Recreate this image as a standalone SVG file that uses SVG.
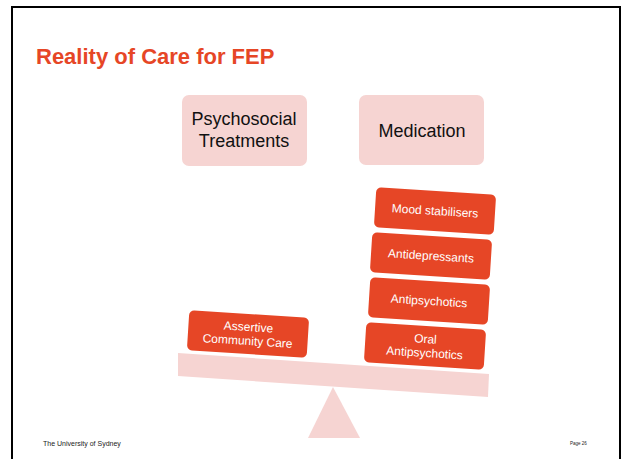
<svg xmlns="http://www.w3.org/2000/svg" width="622" height="459" viewBox="0 0 622 459">
<style>
.title{font-family:"Liberation Sans",Arial,sans-serif;font-weight:bold;font-size:22px;fill:#E64626}
.head{font-family:"Liberation Sans",Arial,sans-serif;font-size:18px;fill:#111;text-anchor:middle}
.pink{fill:#F6D4D2}
.org{fill:#E64626}
.lbl{font-family:"Liberation Sans",Arial,sans-serif;font-size:12px;fill:#fff;text-anchor:middle}
.foot{font-family:"Liberation Sans",Arial,sans-serif;fill:#222}
</style>
<rect x="0" y="0" width="622" height="459" fill="#fff"/>
<rect x="12" y="7" width="608" height="470" fill="#fff" stroke="#000" stroke-width="2"/>
<text class="title" x="36" y="64">Reality of Care for FEP</text>
<g id="psychosocial">
<rect class="pink" x="182" y="95" width="125" height="71" rx="7"/>
<text class="head" x="244" y="125">Psychosocial</text>
<text class="head" x="244" y="147">Treatments</text>
</g>
<g id="medication">
<rect class="pink" x="359" y="95" width="125" height="70" rx="7"/>
<text class="head" x="422" y="137">Medication</text>
</g>
<g id="fulcrum">
<polygon class="pink" points="333,387 308,438 360,438"/>
</g>
<g id="beam">
<polygon class="pink" points="178,353 489,374 488,397 178,376"/>
</g>
<g id="mood">
<g transform="translate(435,211) rotate(3.6)">
<rect class="org" x="-60" y="-20" width="120" height="40" rx="5"/>
<text class="lbl" x="0" y="4">Mood stabilisers</text>
</g>
</g>
<g id="antidepressants">
<g transform="translate(431,256) rotate(3.6)">
<rect class="org" x="-60" y="-20" width="120" height="40" rx="5"/>
<text class="lbl" x="0" y="4">Antidepressants</text>
</g>
</g>
<g id="antipsychotics">
<g transform="translate(429,301) rotate(3.6)">
<rect class="org" x="-60" y="-20" width="120" height="40" rx="5"/>
<text class="lbl" x="0" y="4">Antipsychotics</text>
</g>
</g>
<g id="oral">
<g transform="translate(425,346) rotate(3.6)">
<rect class="org" x="-60" y="-20" width="120" height="40" rx="5"/>
<text class="lbl" x="0" y="-3">Oral</text>
<text class="lbl" x="0" y="11">Antipsychotics</text>
</g>
</g>
<g id="assertive">
<g transform="translate(248,334) rotate(3.6)">
<rect class="org" x="-60" y="-20" width="120" height="40" rx="5"/>
<text class="lbl" x="0" y="-3">Assertive</text>
<text class="lbl" x="0" y="11">Community Care</text>
</g>
</g>
<g id="connectors"></g>
<text class="foot" x="43" y="446" font-size="7">The University of Sydney</text>
<text class="foot" x="570" y="445" font-size="4.5">Page 26</text>
</svg>
